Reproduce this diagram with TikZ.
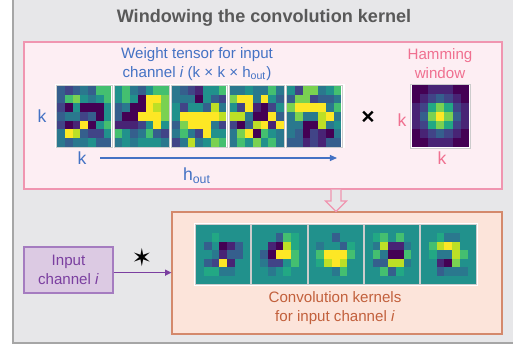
\documentclass[tikz,border=0pt]{standalone}
\usepackage{fontspec}
\setmainfont{Liberation Sans}
\newfontfamily\symfont{DejaVu Sans}
\usetikzlibrary{arrows.meta}

% viridis steps 0..10
\definecolor{v0}{HTML}{440154}
\definecolor{v1}{HTML}{482475}
\definecolor{v2}{HTML}{414487}
\definecolor{v3}{HTML}{355F8D}
\definecolor{v4}{HTML}{2A788E}
\definecolor{v5}{HTML}{21918C}
\definecolor{v6}{HTML}{22A884}
\definecolor{v7}{HTML}{44BF70}
\definecolor{v8}{HTML}{7AD151}
\definecolor{v9}{HTML}{BDDF26}
\definecolor{v10}{HTML}{FDE725}

\definecolor{graybg}{HTML}{E7E7E9}
\definecolor{grayline}{HTML}{A6A6A6}
\definecolor{titlegray}{HTML}{595959}
\definecolor{pinkfill}{HTML}{FDEEF3}
\definecolor{pinkline}{HTML}{F095B0}
\definecolor{pinktext}{HTML}{F07090}
\definecolor{bluetext}{HTML}{4472C4}
\definecolor{orangefill}{HTML}{FCE4DA}
\definecolor{orangeline}{HTML}{D4896C}
\definecolor{orangetext}{HTML}{C2603C}
\definecolor{purplefill}{HTML}{DCCAE3}
\definecolor{purpleline}{HTML}{A57CC0}
\definecolor{purpletext}{HTML}{7B3FA0}

% hamming window, 7 taps
\def\hamm{{0.08,0.31,0.77,1,0.77,0.31,0.08}}

% weight slices (7x7, row by row)
\def\wA{3,2,3,4,3,7,7, 3,7,8,5,4,5,7, 2,0,5,0,0,0,5, 3,4,4,2,3,0,5, 2,0,1,10,0,5,7, 4,10,9,3,2,2,5, 4,3,4,4,5,3,3}
\def\wB{5,7,4,3,5,7,7, 5,7,5,0,10,10,8, 3,4,0,0,10,9,8, 3,0,0,10,10,10,8, 1,1,1,2,5,10,5, 7,5,3,4,7,3,2, 4,5,4,5,5,5,4}
\def\wC{4,3,2,1,5,5,7, 4,4,4,0,5,3,2, 5,2,5,5,3,9,4, 5,10,10,10,10,10,9, 3,8,10,10,10,4,2, 4,7,4,2,10,5,5, 2,4,9,4,5,8,7}
\def\wD{4,4,5,4,4,7,4, 8,10,10,4,10,5,3, 5,2,10,1,0,2,5, 9,9,4,0,0,10,3, 2,0,3,9,10,1,10, 4,8,10,0,7,5,4, 4,7,5,8,5,7,4}
\def\wE{5,2,8,8,4,5,7, 3,8,8,2,3,3,4, 8,10,10,10,10,4,7, 4,8,4,4,9,10,4, 4,4,0,0,9,4,5, 4,3,0,2,1,0,4, 3,3,1,2,1,3,3}

\tikzset{
  txt/.style={font=\fontsize{8.6}{10.8}\selectfont, align=center, inner sep=0pt},
  frame/.style={fill=white, draw=gray!40, line width=0.3pt},
  pinkbox/.style={fill=pinkfill, draw=pinkline, line width=0.7pt},
  orangebox/.style={fill=orangefill, draw=orangeline, line width=0.7pt},
  inbox/.style={txt, fill=purplefill, draw=purpleline, line width=0.7pt, text=purpletext},
  hollowarrow/.style={fill=graybg, draw=pinkline, line width=0.7pt, line join=miter},
}

\begin{document}
\begin{tikzpicture}[x=0.02cm, y=-0.02cm]
\useasboundingbox (0,0) rectangle (513,347);
\clip (0,0) rectangle (513,347);

% background panel
\draw[fill=graybg, draw=grayline, line width=0.9pt] (13,-10) rectangle (530,343);
\node[font=\bfseries\fontsize{10.3}{12}\selectfont, text=titlegray] (title) at (264,18) {Windowing the convolution kernel};

% upper (pink) box
\node[pinkbox, minimum width=9.56cm, minimum height=2.94cm] (wbox) at (263,115.5) {};
\node[txt, text=bluetext] (wlabel) at (197,64) {Weight tensor for input\\channel \textit{i} (k × k × h\textsubscript{out})};
\node[txt, text=pinktext] (hlabel) at (440,64) {Hamming\\window};

% weight slices
\draw[fill=white, draw=none] (55,84.5) rectangle (344.5,148);
\foreach \data/\xo in {\wA/57,\wB/114.5,\wC/172,\wD/229.5,\wE/287} {
  \edef\cur{\data}
  \draw[frame] (\xo-0.7,85.3) rectangle (\xo+54.9,147.2);
  \foreach \v [count=\n from 0] in \cur {
    \pgfmathtruncatemacro\r{div(\n,7)}
    \pgfmathtruncatemacro\c{mod(\n,7)}
    \fill[v\v] (\xo+\c*7.75,86+\r*8.65) rectangle ++(7.85,8.75);
  }
}
\node[txt, text=bluetext, font=\fontsize{10}{12}\selectfont] (kleft) at (42,116) {k};
\node[txt, text=bluetext, font=\fontsize{10}{12}\selectfont] (kbottom) at (82,158) {k};
\coordinate (hstart) at (100,158);
\coordinate (hend) at (337,158);
\draw[bluetext, line width=0.7pt, -{Triangle[length=4pt,width=3.4pt]}] (hstart) -- (hend);
\node[txt, text=bluetext, font=\fontsize{10}{12}\selectfont] (hout) at (197,176) {h\textsubscript{out}};

\node[font=\bfseries\fontsize{13}{14}\selectfont] (times) at (368,118) {×};

% hamming window
\draw[frame] (410.5,84) rectangle (470,148);
\foreach \r in {0,...,6} {
  \foreach \c in {0,...,6} {
    \pgfmathtruncatemacro\hv{round(10*\hamm[\r]*\hamm[\c])}
    \fill[v\hv] (412+\c*8.1,85.5+\r*8.8) rectangle ++(8.2,8.9);
  }
}
\node[txt, text=pinktext, font=\fontsize{10}{12}\selectfont] (hkleft) at (402,120) {k};
\node[txt, text=pinktext, font=\fontsize{10}{12}\selectfont] (hkbottom) at (442,158) {k};

% lower (orange) box
\node[orangebox, minimum width=6.6cm, minimum height=2.44cm] (kbox) at (337,273) {};
\node[txt, text=orangetext] (klabel) at (335,308.5) {Convolution kernels\\for input channel \textit{i}};

% windowed kernels
\draw[fill=white, draw=none] (194,223) rectangle (478,286);
\foreach \data/\xo in {\wA/196,\wB/252.3,\wC/308.6,\wD/364.9,\wE/421.2} {
  \edef\cur{\data}
  \draw[frame] (\xo-0.6,224.4) rectangle (\xo+54.7,284.6);
  \foreach \v [count=\n from 0] in \cur {
    \pgfmathtruncatemacro\r{div(\n,7)}
    \pgfmathtruncatemacro\c{mod(\n,7)}
    \pgfmathtruncatemacro\kv{max(0,min(10,round(5+(\v-5)*\hamm[\r]*\hamm[\c]*1.3)))}
    \fill[v\kv] (\xo+\c*7.75,225+\r*8.45) rectangle ++(7.85,8.55);
  }
}

% hollow arrow between the boxes
\coordinate (ax) at (336,0);
\filldraw[hollowarrow] (wbox.south -| ax) ++(-5,0) -- ++(0,11.5) -- ++(-5.5,0) -- ++(10.5,10.5)
  -- ++(10.5,-10.5) -- ++(-5.5,0) -- ++(0,-11.5);

% input channel
\node[inbox, minimum width=1.78cm, minimum height=0.92cm] (input) at (68.5,270) {Input\\channel \textit{i}};
\draw[purpletext, line width=0.8pt, -{Triangle[length=3.6pt,width=3.4pt]}] ([yshift=-1.5pt]input.east) -- ([yshift=-1.5pt]input.east -| kbox.west);
\node[font=\symfont\fontsize{14}{16}\selectfont] (star) at (142,258) {✶};
\end{tikzpicture}
\end{document}
